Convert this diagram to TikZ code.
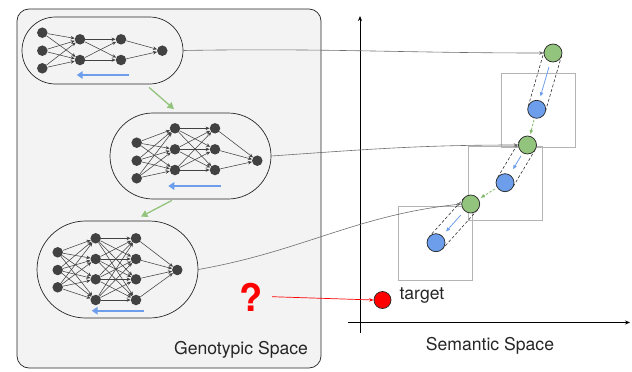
\documentclass[tikz,border=0pt]{standalone}
\usepackage{fontspec}
\setmainfont{TeX Gyre Heros}
\usetikzlibrary{arrows.meta,calc}
\definecolor{boxfill}{HTML}{F3F3F3}
\definecolor{neuroncol}{HTML}{424242}
\definecolor{gfill}{HTML}{93C47D}
\definecolor{garrow}{HTML}{86BC6E}
\definecolor{bfill}{HTML}{6D9EEB}
\definecolor{sqgray}{HTML}{B4B4B4}
\definecolor{linkgray}{HTML}{6E6E6E}

\begin{document}
\begin{tikzpicture}[x=1pt,y=-1pt,
  lbl/.style={font=\fontsize{17.6}{20}\selectfont, text=black!85},
  neuron/.style={circle,fill=neuroncol,inner sep=0pt,minimum size=10.5pt},
  synapse/.style={draw=neuroncol,line width=0.55pt,-{Stealth[length=4pt,width=3.6pt]}},
  capsule/.style={draw=black!85,line width=0.7pt,inner sep=0pt},
  backprop/.style={draw=bfill,line width=1.8pt,-{Triangle[length=6pt,width=7.5pt]}},
  evolve/.style={draw=gfill,line width=1.3pt,-{Triangle[length=6.5pt,width=7pt]}},
  gpt/.style={circle,fill=gfill,draw=black!85,line width=0.7pt,inner sep=0pt,minimum size=18pt},
  bpt/.style={circle,fill=bfill,draw=black!85,line width=0.7pt,inner sep=0pt,minimum size=18pt},
  region/.style={draw=sqgray,line width=0.9pt,inner sep=0pt,minimum size=74pt},
  tube/.style={draw=black!80,line width=0.6pt,dash pattern=on 3pt off 2pt},
  gradstep/.style={draw=bfill,line width=0.8pt,-{Triangle[length=4pt,width=3.5pt]}},
  mutstep/.style={draw=garrow,line width=0.8pt,dash pattern=on 2.5pt off 1.5pt,-{Triangle[length=4pt,width=3.5pt]}},
  link/.style={draw=linkgray,line width=0.6pt,-{Stealth[length=4.5pt,width=3.5pt]}},
  axis/.style={draw=black,line width=0.9pt,-{Stealth[length=5pt,width=4pt]}}
]
\useasboundingbox (0,0) rectangle (632,372);

% genotypic space panel
\node[draw=black!85,fill=boxfill,line width=0.7pt,rounded corners=12pt,
      minimum width=304pt,minimum height=359pt,inner sep=0pt] (genobox) at (169,188.5) {};
\node[lbl] (genolabel) at (241,350) {Genotypic Space};

% capsules holding the networks
\node[capsule,rounded corners=33.5pt,minimum width=161pt,minimum height=67pt] (cap1) at (102.5,50.5) {};
\node[capsule,rounded corners=43pt,minimum width=161pt,minimum height=86pt] (cap2) at (190.5,156) {};
\node[capsule,rounded corners=48.5pt,minimum width=161pt,minimum height=97pt] (cap3) at (117.5,269.5) {};

% network 1: 3-2-2-1
\foreach \i/\y in {1/32.7,2/50.7,3/68.3} \node[neuron] (n1a\i) at (42.3,\y) {};
\foreach \i/\y in {1/39.3,2/60} {
  \node[neuron] (n1b\i) at (80,\y) {};
  \node[neuron] (n1c\i) at (121,\y) {};
}
\node[neuron] (n1d1) at (162.3,50.7) {};
\foreach \i in {1,2,3} \foreach \j in {1,2} \draw[synapse] (n1a\i) -- (n1b\j);
\foreach \i in {1,2} \foreach \j in {1,2} \draw[synapse] (n1b\i) -- (n1c\j);
\foreach \i in {1,2} \draw[synapse] (n1c\i) -- (n1d1);

% network 2: 3-3-3-1
\foreach \i/\y in {1/142.7,2/160.7,3/178.3} \node[neuron] (n2a\i) at (136.7,\y) {};
\foreach \i/\y in {1/128.3,2/149.3,3/170} {
  \node[neuron] (n2b\i) at (175,\y) {};
  \node[neuron] (n2c\i) at (215,\y) {};
}
\node[neuron] (n2d1) at (257.3,160.7) {};
\foreach \i in {1,2,3} \foreach \j in {1,2,3} \draw[synapse] (n2a\i) -- (n2b\j);
\foreach \i in {1,2,3} \foreach \j in {1,2,3} \draw[synapse] (n2b\i) -- (n2c\j);
\foreach \i in {1,2,3} \draw[synapse] (n2c\i) -- (n2d1);

% network 3: 3-4-4-1
\foreach \i/\y in {1/252.3,2/270,3/287.3} \node[neuron] (n3a\i) at (57.7,\y) {};
\foreach \i/\y in {1/238.3,2/259,3/279.3,4/300} {
  \node[neuron] (n3b\i) at (95.7,\y) {};
  \node[neuron] (n3c\i) at (136,\y) {};
}
\node[neuron] (n3d1) at (177.3,270) {};
\foreach \i in {1,2,3} \foreach \j in {1,2,3,4} \draw[synapse] (n3a\i) -- (n3b\j);
\foreach \i in {1,2,3,4} \foreach \j in {1,2,3,4} \draw[synapse] (n3b\i) -- (n3c\j);
\foreach \i in {1,2,3,4} \draw[synapse] (n3c\i) -- (n3d1);

% backpropagation arrows inside the capsules
\coordinate (bp1s) at (129,75);   \coordinate (bp1e) at (76.7,75);
\coordinate (bp2s) at (220.7,186); \coordinate (bp2e) at (168.3,186);
\coordinate (bp3s) at (144,310.7); \coordinate (bp3e) at (91.7,310.7);
\draw[backprop] (bp1s) -- (bp1e);
\draw[backprop] (bp2s) -- (bp2e);
\draw[backprop] (bp3s) -- (bp3e);

% evolution steps between capsules
\draw[evolve] ($(cap1.south)+(46.5,3)$) -- ($(cap2.north)+(-16.5,-3.5)$);
\draw[evolve] ($(cap2.south)+(-18.5,1)$) -- ($(cap3.north)+(23.5,-4)$);

% semantic space axes
\coordinate (ybot) at (360,333);
\coordinate (ytop) at (360,16);
\coordinate (xleft) at (348,322.5);
\coordinate (xright) at (630,322.5);
\draw[axis] (ybot) -- (ytop);
\draw[axis] (xleft) -- (xright);
\node[lbl] (semlabel) at (490,346) {Semantic Space};

% search regions around the trained points
\node[region] (sq1) at (538,110) {};
\node[region] (sq2) at (505,183) {};
\node[region] (sq3) at (435.5,243) {};

% points in semantic space
\node[gpt] (G1) at (553,53) {};
\node[bpt] (B1) at (536.7,109.3) {};
\node[gpt] (G2) at (527.5,145) {};
\node[bpt] (B2) at (505,182.7) {};
\node[gpt] (G3) at (470.7,204) {};
\node[bpt] (B3) at (436,242.7) {};

% training tubes between green and blue points
\foreach \g/\b in {G1/B1,G2/B2,G3/B3} {
  \draw[tube] ($(\g)!9pt!90:(\b)$) -- ($(\b)!9pt!-90:(\g)$);
  \draw[tube] ($(\g)!9pt!-90:(\b)$) -- ($(\b)!9pt!90:(\g)$);
}
\draw[gradstep] ($(G1)!0.25!(B1)$) -- ($(G1)!0.77!(B1)$);
\draw[gradstep] ($(G2)!0.29!(B2)$) -- ($(G2)!0.64!(B2)$);
\draw[gradstep] ($(G3)!0.28!(B3)$) -- ($(G3)!0.71!(B3)$);

% mutation steps
\draw[mutstep,shorten <=1.5pt,shorten >=2pt] (B1) -- (G2);
\draw[mutstep,shorten <=2.5pt,shorten >=2.5pt] (B2) -- (G3);

% networks mapped to semantic space
\draw[link] (cap1.east) to[out=1,in=180] (G1.west);
\draw[link] (cap2.east) to[out=4,in=180] (G2.west);
\draw[link] (cap3.east) to[out=10,in=186] (G3.west);

% target
\node[circle,fill=red,draw=black!85,line width=0.7pt,inner sep=0pt,minimum size=17pt] (target) at (382.5,300) {};
\node[lbl,anchor=west] (targetlabel) at (396,296) {target};
\node[text=red,font=\fontsize{38}{40}\selectfont\bfseries] (qmark) at (251,297) {?};
\draw[draw=red,line width=0.7pt,-{Stealth[length=4.5pt,width=3.5pt]}] (272,296.7) coordinate (qtail) -- (target.west);
\end{tikzpicture}
\end{document}
